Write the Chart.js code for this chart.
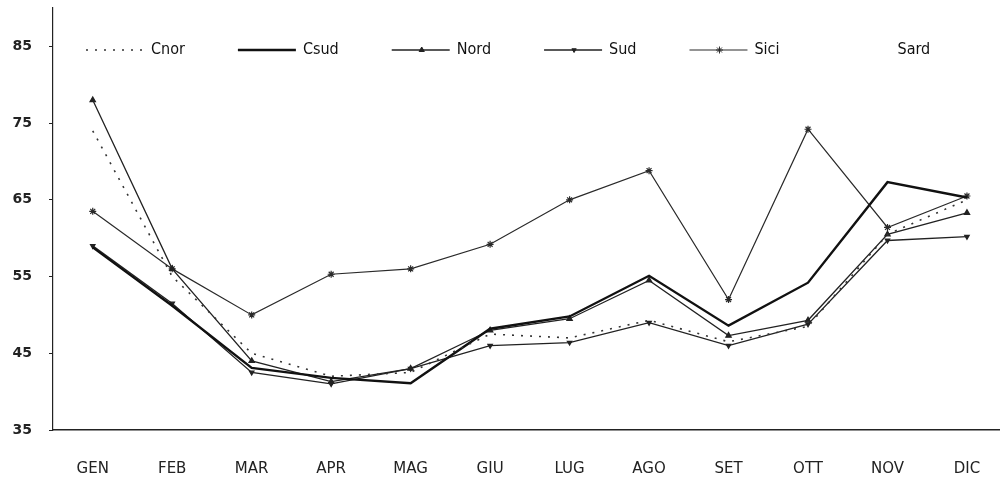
<!DOCTYPE html>
<html lang="it">
<head>
    <meta charset="UTF-8">
    <meta name="viewport" content="width=device-width, initial-scale=1.0">
    <title>Andamento mensile</title>
    <script src="https://cdn.jsdelivr.net/npm/chart.js"></script>
    <style>
        html, body {
            margin: 0;
            padding: 0;
            background: #fff;
            overflow: hidden;
        }
        #wrap {
            position: relative;
            width: 1012px; /* the last category runs a bit past the window edge */
            height: 480px;
        }
    </style>
</head>
<body>
    <div id="wrap">
        <canvas id="chart"></canvas>
    </div>
    <script>
        var mesi = ['GEN', 'FEB', 'MAR', 'APR', 'MAG', 'GIU', 'LUG', 'AGO', 'SET', 'OTT', 'NOV', 'DIC'];

        var cnor = [74, 55, 45, 42, 42.5, 47.5, 47, 49.3, 46.5, 48.5, 60.5, 65];
        var csud = [58.8, 51.2, 43.1, 41.8, 41.1, 48.2, 49.8, 55.1, 48.6, 54.2, 67.3, 65.3];
        var nord = [78, 56, 44, 41.3, 43, 48, 49.5, 54.5, 47.3, 49.3, 60.5, 63.3];
        var sud  = [59, 51.5, 42.5, 41, 43, 46, 46.4, 49, 46, 48.8, 59.7, 60.2];
        var sici = [63.5, 56, 50, 55.3, 56, 59.2, 65, 68.8, 52, 74.2, 61.4, 65.5];
        var sard = [null, null, null, null, null, null, null, null, null, null, null, null]; // line not visible in the original

        var yTicks = [35, 45, 55, 65, 75, 85];

        // legend drawn inside the plot, on one row near the top
        var legendaInterna = {
            id: 'legendaInterna',
            afterDatasetsDraw: function(chart) {
                var ctx = chart.ctx;
                var x = 86, y = 50;
                ctx.save();
                ctx.font = '16px "DejaVu Sans Condensed", "DejaVu Sans", sans-serif';
                ctx.textBaseline = 'middle';
                chart.data.datasets.forEach(function(ds) {
                    ctx.strokeStyle = ds.borderColor;
                    ctx.fillStyle = ds.borderColor;
                    ctx.lineWidth = ds.borderWidth;
                    ctx.setLineDash(ds.borderDash || []);
                    ctx.beginPath();
                    ctx.moveTo(x, y);
                    ctx.lineTo(x + 58, y);
                    ctx.stroke();
                    ctx.setLineDash([]);
                    if (ds.pointRadius > 0 && Chart.helpers && Chart.helpers.drawPoint) {
                        ctx.lineWidth = 1;
                        Chart.helpers.drawPoint(ctx, {
                            pointStyle: ds.pointStyle,
                            radius: ds.pointRadius,
                            rotation: ds.pointRotation || 0,
                            borderWidth: 1
                        }, x + 30, y);
                    }
                    ctx.fillStyle = '#111';
                    ctx.fillText(ds.label, x + 65, y);
                    x += 65 + ctx.measureText(ds.label).width + 53;
                });
                ctx.restore();
            }
        };

        var ctx = document.getElementById('chart').getContext('2d');
        var chart = new Chart(ctx, {
            type: 'line',
            data: {
                labels: mesi,
                datasets: [{
                    label: 'Cnor',
                    data: cnor,
                    borderColor: '#333',
                    borderWidth: 1.6,
                    borderDash: [2, 7],
                    pointRadius: 0
                }, {
                    label: 'Csud',
                    data: csud,
                    borderColor: '#111',
                    borderWidth: 2.4,
                    pointRadius: 0
                }, {
                    label: 'Nord',
                    data: nord,
                    borderColor: '#222',
                    borderWidth: 1.3,
                    pointStyle: 'triangle',
                    pointRadius: 3,
                    pointBackgroundColor: '#222',
                    pointBorderColor: '#222'
                }, {
                    label: 'Sud',
                    data: sud,
                    borderColor: '#222',
                    borderWidth: 1.3,
                    pointStyle: 'triangle',
                    pointRotation: 180,
                    pointRadius: 2.5,
                    pointBackgroundColor: '#222',
                    pointBorderColor: '#222'
                }, {
                    label: 'Sici',
                    data: sici,
                    borderColor: '#2a2a2a',
                    borderWidth: 1.2,
                    pointStyle: 'star',
                    pointRadius: 3.5,
                    pointBackgroundColor: '#2a2a2a',
                    pointBorderColor: '#2a2a2a'
                }, {
                    label: 'Sard',
                    data: sard,
                    borderColor: 'rgba(0,0,0,0)',
                    borderWidth: 1,
                    pointRadius: 0
                }]
            },
            options: {
                responsive: true,
                maintainAspectRatio: false,
                animation: false,
                layout: {
                    padding: { top: 8, right: 2, left: 0, bottom: 0 }
                },
                plugins: {
                    legend: { display: false },
                    tooltip: { enabled: false }
                },
                elements: {
                    line: { tension: 0, fill: false }
                },
                scales: {
                    x: {
                        offset: true,
                        grid: { display: false, drawTicks: false },
                        border: { display: true, color: '#222', width: 1.5 },
                        ticks: {
                            color: '#222',
                            padding: 30,
                            maxRotation: 0,
                            font: { family: 'DejaVu Sans', size: 15 }
                        },
                        afterFit: function(axis) { axis.height = 50; }
                    },
                    y: {
                        min: 35,
                        max: 90,
                        grid: {
                            drawOnChartArea: false,
                            drawTicks: true,
                            tickLength: 4,
                            color: '#222'
                        },
                        border: { display: true, color: '#222', width: 1.2 },
                        ticks: {
                            color: '#222',
                            padding: 17,
                            font: { family: 'DejaVu Sans', size: 14, weight: 'bold' }
                        },
                        afterBuildTicks: function(axis) {
                            axis.ticks = yTicks.map(function(v) { return { value: v }; });
                        },
                        afterFit: function(axis) {
                            axis.width = 53;
                            // no label is at the top edge, so no extra room is needed there
                            axis.paddingTop = 0;
                            axis.paddingBottom = 0;
                        }
                    }
                }
            },
            plugins: [legendaInterna]
        });
    </script>
</body>
</html>
